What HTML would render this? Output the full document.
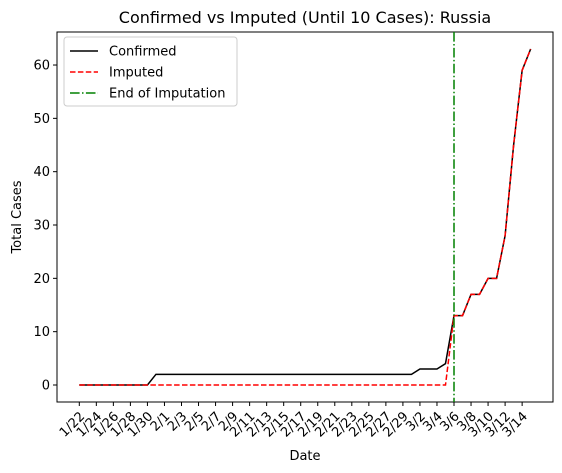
<!DOCTYPE html>
<html><head><meta charset="utf-8"><style>
body{margin:0;background:#fff;}
svg{display:block;font-family:"DejaVu Sans","Liberation Sans",sans-serif;}
</style></head><body>
<svg id="chart" width="562" height="473"></svg>
<script>
const dates=["1/22","1/23","1/24","1/25","1/26","1/27","1/28","1/29","1/30","1/31","2/1","2/2","2/3","2/4","2/5","2/6","2/7","2/8","2/9","2/10","2/11","2/12","2/13","2/14","2/15","2/16","2/17","2/18","2/19","2/20","2/21","2/22","2/23","2/24","2/25","2/26","2/27","2/28","2/29","3/1","3/2","3/3","3/4","3/5","3/6","3/7","3/8","3/9","3/10","3/11","3/12","3/13","3/14","3/15"];
const confirmed=[0,0,0,0,0,0,0,0,0,2,2,2,2,2,2,2,2,2,2,2,2,2,2,2,2,2,2,2,2,2,2,2,2,2,2,2,2,2,2,2,3,3,3,4,13,13,17,17,20,20,28,45,59,63];
const imputed=[0,0,0,0,0,0,0,0,0,0,0,0,0,0,0,0,0,0,0,0,0,0,0,0,0,0,0,0,0,0,0,0,0,0,0,0,0,0,0,0,0,0,0,0,13,13,17,17,20,20,28,45,59,63];
const yTicks=[0,10,20,30,40,50,60];
const cutoff="3/6";

const svg=document.getElementById('chart');
const NS='http://www.w3.org/2000/svg';
const L=57,R=553,T=32,B=402;
const x0=79.3,step=8.516;
const xs=i=>x0+i*step;
const ys=v=>385-v*5.333;
function mk(tag,attrs,parent){const e=document.createElementNS(NS,tag);for(const k in attrs)e.setAttribute(k,attrs[k]);(parent||svg).appendChild(e);return e;}

const frame=mk('rect',{x:L,y:T,width:R-L,height:B-T,fill:'none',stroke:'#000','stroke-width':1});



const yg=mk('g',{});


yTicks.forEach(v=>{const y=ys(v);
mk('line',{x1:L-4,x2:L,y1:y,y2:y,stroke:'#000'},yg);
const t=mk('text',{x:L-7,y:y+4.5,'text-anchor':'end','font-size':13},yg);t.textContent=v;

});

const xg=mk('g',{});


dates.forEach((d,i)=>{if(i%2)return;const x=xs(i);
mk('line',{x1:x,x2:x,y1:B,y2:B+4,stroke:'#000'},xg);
const tx=x+6,ty=B+15;
const t=mk('text',{x:tx,y:ty,'text-anchor':'end','font-size':13,transform:`rotate(-45 ${tx} ${ty})`},xg);t.textContent=d;

});

function line(arr,attrs,name){const p=arr.map((v,i)=>(i?'L':'M')+xs(i).toFixed(2)+','+ys(v).toFixed(2)).join('');
const e=mk('path',Object.assign({d:p,fill:'none','stroke-width':1.5},attrs));

}
line(confirmed,{stroke:'#000'},'confirmed-line');
line(imputed,{stroke:'#f00','stroke-dasharray':'5.5,2.4'},'imputed-line');
const ci=dates.indexOf(cutoff);
const vl=mk('line',{x1:xs(ci),x2:xs(ci),y1:T,y2:B,stroke:'#008000','stroke-width':1.5,'stroke-dasharray':'9.6,2.4,1.5,2.4'});



const title=mk('text',{x:(L+R)/2,y:23,'text-anchor':'middle','font-size':16});title.textContent='Confirmed vs Imputed (Until 10 Cases): Russia';


const xl=mk('text',{x:(L+R)/2,y:460,'text-anchor':'middle','font-size':13});xl.textContent='Date';


const yl=mk('text',{x:21,y:(T+B)/2,'text-anchor':'middle','font-size':13,transform:`rotate(-90 21 ${(T+B)/2})`});yl.textContent='Total Cases';



const lg=mk('g',{});


mk('rect',{x:64,y:37,width:173,height:69,rx:3,fill:'#fff',stroke:'#ccc','fill-opacity':0.8},lg);
const items=[['Confirmed',{stroke:'#000'}],['Imputed',{stroke:'#f00','stroke-dasharray':'5.5,2.4'}],['End of Imputation',{stroke:'#008000','stroke-dasharray':'9.6,2.4,1.5,2.4'}]];
items.forEach((it,k)=>{const y=51+k*21;
const g=mk('g',{},lg);


mk('line',Object.assign({x1:70,x2:98,y1:y,y2:y,'stroke-width':1.5},it[1]),g);
const t=mk('text',{x:109,y:y+4.5,'font-size':13},g);t.textContent=it[0];});
</script>
</body></html>
